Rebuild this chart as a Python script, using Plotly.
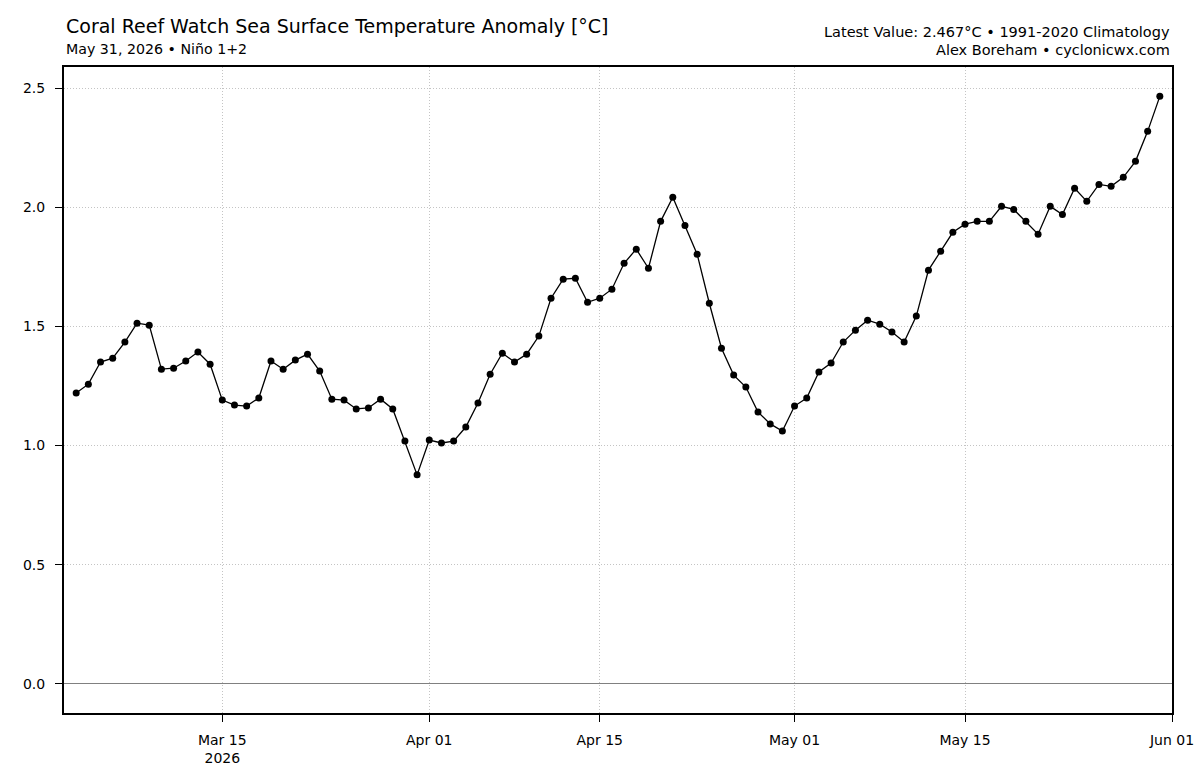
import pandas as pd
import plotly.graph_objects as go

dates = pd.date_range("2026-03-03", "2026-05-31", freq="D")
anomaly = [
    1.221, 1.258, 1.351, 1.367, 1.435, 1.514, 1.506, 1.321, 1.325, 1.355,
    1.393, 1.342, 1.191, 1.170, 1.166, 1.200, 1.355, 1.321, 1.359, 1.384,
    1.313, 1.195, 1.191, 1.154, 1.158, 1.195, 1.154, 1.019, 0.877, 1.023,
    1.011, 1.019, 1.078, 1.179, 1.300, 1.388, 1.351, 1.384, 1.460, 1.619,
    1.699, 1.703, 1.602, 1.619, 1.657, 1.766, 1.825, 1.745, 1.942, 2.043,
    1.925, 1.804, 1.598, 1.409, 1.296, 1.246, 1.141, 1.091, 1.061, 1.166,
    1.200, 1.309, 1.347, 1.435, 1.485, 1.527, 1.510, 1.477, 1.435, 1.544,
    1.737, 1.816, 1.896, 1.930, 1.942, 1.942, 2.005, 1.992, 1.942, 1.888,
    2.005, 1.971, 2.081, 2.026, 2.097, 2.089, 2.127, 2.194, 2.320, 2.467,
]

xtick_vals = ["2026-03-15", "2026-04-01", "2026-04-15", "2026-05-01", "2026-05-15", "2026-06-01"]
xtick_text = ["Mar 15<br>2026", "Apr 01", "Apr 15", "May 01", "May 15", "Jun 01"]
ytick_vals = [0.0, 0.5, 1.0, 1.5, 2.0, 2.5]
ytick_text = ["0.0", "0.5", "1.0", "1.5", "2.0", "2.5"]

title = "Coral Reef Watch Sea Surface Temperature Anomaly [°C]"
subtitle = "May 31, 2026 • Niño 1+2"
right1 = "Latest Value: 2.467°C • 1991-2020 Climatology"
right2 = "Alex Boreham • cyclonicwx.com"

FONT = "DejaVu Sans"

fig = go.Figure()
fig.add_trace(go.Scatter(
    x=dates, y=anomaly, mode="lines+markers",
    line=dict(color="black", width=1.3),
    marker=dict(color="black", size=7),
    showlegend=False,
))

ymin = min(0, min(anomaly))
ymax = max(anomaly)
pad = (ymax - ymin) * 0.05

grid = dict(showgrid=True, gridcolor="#c4c4c4", griddash="1px,2px", gridwidth=1)
frame = dict(showline=True, linecolor="black", linewidth=2, mirror=True,
             ticks="outside", ticklen=7, tickwidth=1.3, tickcolor="black",
             automargin=False)

fig.update_layout(
    width=1200, height=770,
    margin=dict(l=64, r=28, t=67, b=57),
    paper_bgcolor="white", plot_bgcolor="white",
    font=dict(family=FONT, size=14, color="black"),
    xaxis=dict(
        range=["2026-03-02", "2026-06-01"],
        tickvals=xtick_vals, ticktext=xtick_text,
        zeroline=False, ticklabelstandoff=6,
        tickfont=dict(family=FONT, size=14, color="black"),
        **grid, **frame,
    ),
    yaxis=dict(
        range=[ymin - pad, ymax + pad],
        tickvals=ytick_vals, ticktext=ytick_text,
        zeroline=True, zerolinecolor="#808080", zerolinewidth=1.3,
        ticklabelstandoff=7,
        tickfont=dict(family=FONT, size=14, color="black"),
        **grid, **frame,
    ),
    annotations=[
        dict(text=title, xref="paper", yref="paper", x=0, y=1.0635,
             xanchor="left", yanchor="middle", showarrow=False,
             font=dict(family=FONT, size=19, color="black")),
        dict(text=subtitle, xref="paper", yref="paper", x=0, y=1.0279,
             xanchor="left", yanchor="middle", showarrow=False,
             font=dict(family=FONT, size=14.2, color="black")),
        dict(text=right1, xref="paper", yref="paper", x=1, y=1.054,
             xanchor="right", yanchor="middle", showarrow=False,
             font=dict(family=FONT, size=14.5, color="black")),
        dict(text=right2, xref="paper", yref="paper", x=1, y=1.026,
             xanchor="right", yanchor="middle", showarrow=False,
             font=dict(family=FONT, size=14.5, color="black")),
    ],
)

fig.write_html("out.html")
